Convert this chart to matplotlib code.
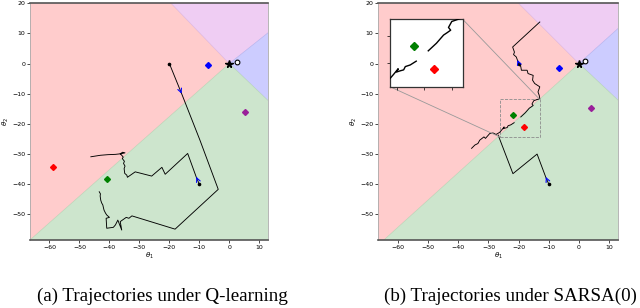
import matplotlib
matplotlib.use("Agg")
import matplotlib.pyplot as plt
from mpl_toolkits.axes_grid1.inset_locator import mark_inset

# ---------------- data ----------------
xlim = (-66.5, 13.0)
ylim = (-58.5, 20.0)

# region boundary directions from the equilibrium (0,0): (dx, dy)
bound_a = {"rg": (-1, -0.88), "rp": (-1, 1.03), "pb": (1, 0.79), "bg": (1, -0.95)}
bound_b = {"rg": (-1, -0.905), "rp": (-1, 1.0), "pb": (1, 0.9), "bg": (1, -0.94)}

# markers (a)
red_a = (-58.7, -34.4)
green_a = (-40.8, -38.4)
blue_a = (-7.2, -0.3)
purple_a = (5.3, -16.0)
star_a = (0.0, 0.0)
circle_a = (2.6, 0.6)

# markers (b)
red_b = (-18.3, -21.0)
green_b = (-22.0, -16.9)
blue_b = (-6.7, -1.5)
purple_b = (4.1, -14.7)
star_b = (0.0, 0.0)
circle_b = (2.1, 0.8)

# trajectories (a) Q-learning
trajA_x = [-20.0, -15.7, -9.8, -3.7, -18.1, -32.5, -33.5, -34.4, -36.4, -35.9, -37.2, -38.0, -38.7,
           -40.9, -41.1, -40.0, -40.9, -41.3, -41.8, -42.0, -42.2, -42.6, -42.9, -43.1, -43.0, -43.4]
trajA_y = [0.0, -10.5, -25.4, -41.7, -54.9, -50.5, -51.3, -51.0, -52.4, -55.2, -51.9, -53.5, -54.3,
           -54.6, -51.3, -51.0, -50.2, -49.6, -48.6, -47.8, -46.9, -46.2, -45.3, -43.9, -43.2, -42.5]
trajB_x = [-10.0, -10.9, -13.9, -21.4, -22.5, -25.9, -31.4, -34.0, -34.2, -34.9, -35.1, -34.8, -35.3,
           -35.0, -35.7, -35.4, -35.9, -36.4, -35.6, -34.8, -36.2, -38.0, -40.5, -43.0, -46.2]
trajB_y = [-40.0, -38.0, -29.8, -36.7, -34.4, -37.3, -35.9, -37.7, -37.0, -36.4, -34.8, -34.0, -33.1,
           -32.4, -31.5, -31.0, -30.4, -29.9, -29.4, -29.6, -29.9, -30.1, -30.2, -30.4, -30.9]

# trajectories (b) SARSA(0)
trajC_x = [-10.0, -10.9, -13.9, -21.9, -26.8]
trajC_y = [-40.0, -38.0, -30.0, -36.5, -23.7]
trajD_x = [-13.0, -22.0, -21.4, -21.7, -20.8, -20.2, -20.0, -19.3, -19.1, -17.2, -16.9, -15.2, -15.4,
           -14.7, -13.0, -13.6, -13.2, -13.0, -14.7, -15.0, -15.6, -15.2, -15.9, -16.5, -17.8, -19.3]
trajD_y = [13.8, 5.5, 3.8, 3.0, 2.2, 0.6, 0.0, -1.0, -2.2, -2.2, -3.3, -3.9, -5.5,
           -6.6, -7.7, -9.4, -10.5, -11.6, -12.2, -12.3, -13.4, -13.9, -14.4, -14.8, -16.3, -17.7]
trajE_x = [-21.5, -22.6, -23.5, -23.8, -24.5, -25.1, -24.8, -25.7, -26.3, -27.5, -28.5, -29.6, -31.0,
           -31.5, -32.9, -33.5, -34.5, -35.6]
trajE_y = [-19.6, -20.3, -20.6, -21.2, -21.4, -21.6, -21.0, -22.1, -22.8, -23.5, -23.0, -23.2, -24.8,
           -24.3, -25.4, -26.5, -27.0, -28.1]

# start points and arrow (from, to)
starts = [(-20.0, 0.0), (-10.0, -40.0)]
arrows_a = [((-16.6, -8.3), (-15.6, -10.8)), ((-10.4, -39.0), (-11.0, -37.6))]
arrows_b = [((-19.8, -0.4), (-20.4, 1.2)), ((-10.4, -39.0), (-11.0, -37.6))]

zoom_box = (-26.3, -13.0, -24.3, -11.9)  # x0, x1, y0, y1

captions = ["(a) Trajectories under Q-learning", "(b) Trajectories under SARSA(0)"]

region_colors = {"red": "#ffcccc", "purple": "#efcdf3", "blue": "#ccccff", "green": "#cde5cd"}
edge_colors = {"red": "#f5b5b5", "purple": "#dcb8e6", "blue": "#b4b4f0", "green": "#b8d8b8"}

# ---------------- drawing ----------------
fig = plt.figure(figsize=(6.4, 3.08), dpi=100)
axA = fig.add_axes([30 / 640, 1 - 240 / 308, 238.3 / 640, 236.7 / 308])
axB = fig.add_axes([378.3 / 640, 1 - 240 / 308, 240 / 640, 236.7 / 308])

R = 1000.0


def regions(ax, b):
    rg = (R * b["rg"][0], R * b["rg"][1])
    rp = (R * b["rp"][0], R * b["rp"][1])
    pb = (R * b["pb"][0], R * b["pb"][1])
    bg = (R * b["bg"][0], R * b["bg"][1])
    polys = [([0, rg[0], rp[0]], [0, rg[1], rp[1]], "red"),
             ([0, rp[0], pb[0]], [0, rp[1], pb[1]], "purple"),
             ([0, pb[0], bg[0]], [0, pb[1], bg[1]], "blue"),
             ([0, bg[0], rg[0]], [0, bg[1], rg[1]], "green")]
    for xs, ys, c in polys:
        ax.fill(xs, ys, facecolor=region_colors[c], edgecolor=edge_colors[c], lw=0.4, zorder=0)


def markers(ax, red, green, blue, purple, star, circle, ms=3.0):
    for p, c in [(red, "red"), (green, "green"), (blue, "blue"), (purple, "#9a1f9a")]:
        ax.plot(p[0], p[1], "D", color=c, ms=ms, zorder=5)
    ax.plot(star[0], star[1], "*", color="black", ms=5.5, zorder=5)
    ax.plot(circle[0], circle[1], "o", mfc="white", mec="black", ms=3.4, mew=0.8, zorder=5)


def traj(ax, xs, ys, lw=0.65):
    ax.plot(xs, ys, color="black", lw=lw, zorder=3)


def arrows(ax, arr):
    for (p0, p1) in arr:
        ax.annotate("", xy=p1, xytext=p0,
                    arrowprops=dict(arrowstyle="->", color="blue", lw=0.8, mutation_scale=7),
                    zorder=4)


def style(ax):
    ax.set_xlim(*xlim)
    ax.set_ylim(*ylim)
    ax.set_xticks([-60, -50, -40, -30, -20, -10, 0, 10])
    ax.set_yticks([-50, -40, -30, -20, -10, 0, 10, 20])
    ax.tick_params(labelsize=4.5, length=2, width=0.5, pad=1.5)
    ax.set_xlabel(r"$\theta_1$", fontsize=5, labelpad=1)
    ax.set_ylabel(r"$\theta_2$", fontsize=5, labelpad=1)
    for side in ["top", "bottom"]:
        ax.spines[side].set_color("#555555")
        ax.spines[side].set_linewidth(1.2)
    for side in ["left", "right"]:
        ax.spines[side].set_color("#aaaaaa")
        ax.spines[side].set_linewidth(0.6)


# panel (a)
regions(axA, bound_a)
traj(axA, trajA_x, trajA_y)
traj(axA, trajB_x, trajB_y)
for s in starts:
    axA.plot(s[0], s[1], ".", color="black", ms=3.2, zorder=4)
arrows(axA, arrows_a)
markers(axA, red_a, green_a, blue_a, purple_a, star_a, circle_a)
style(axA)

# panel (b)
regions(axB, bound_b)
for xs, ys in [(trajC_x, trajC_y), (trajD_x, trajD_y), (trajE_x, trajE_y)]:
    traj(axB, xs, ys)
for s in starts:
    axB.plot(s[0], s[1], ".", color="black", ms=3.2, zorder=4)
arrows(axB, arrows_b)
markers(axB, red_b, green_b, blue_b, purple_b, star_b, circle_b)
style(axB)

# inset
axI = fig.add_axes([390 / 640, 1 - 86.7 / 308, 72.7 / 640, 67.4 / 308])
axI.set_facecolor("white")
for xs, ys in [(trajC_x, trajC_y), (trajD_x, trajD_y), (trajE_x, trajE_y)]:
    traj(axI, xs, ys, lw=1.0)
for p, c in [(red_b, "red"), (green_b, "green")]:
    axI.plot(p[0], p[1], "D", color=c, ms=4, zorder=5)
axI.set_xlim(zoom_box[0], zoom_box[1])
axI.set_ylim(zoom_box[2], zoom_box[3])
axI.set_xticks([-25, -20, -15])
axI.set_yticks([-20, -15])
axI.tick_params(labelbottom=False, labelleft=False, length=2, width=0.5)
for sp in axI.spines.values():
    sp.set_linewidth(0.9)
    sp.set_color("#333333")
pp, p1, p2 = mark_inset(axB, axI, loc1=1, loc2=3, fc="none", ec="0.6", lw=0.6)
pp.set_linestyle("--")
pp.set_edgecolor("0.55")

fig.text(162 / 640, 1 - 296 / 308, captions[0], ha="center", va="center",
         fontsize=13.7, family="Liberation Serif")
fig.text(510 / 640, 1 - 296 / 308, captions[1], ha="center", va="center",
         fontsize=13.7, family="Liberation Serif")

fig.savefig("out.png", dpi=100)
